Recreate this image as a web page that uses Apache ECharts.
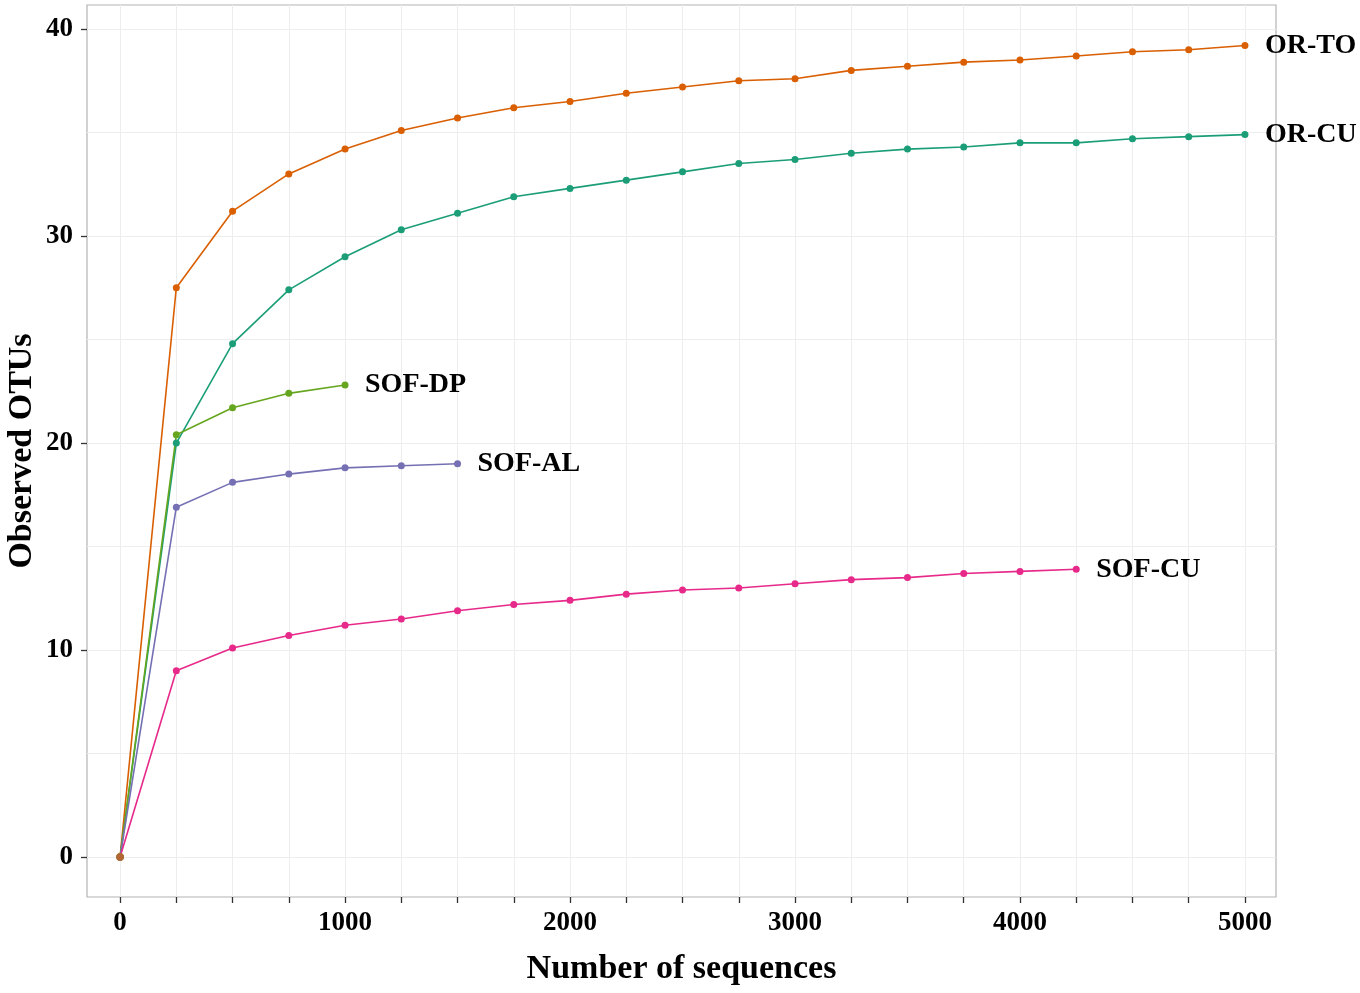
<!DOCTYPE html>
<html>
<head>
<meta charset="utf-8">
<style>
  html, body { margin: 0; padding: 0; background: #fff; }
  #main { width: 1360px; height: 993px; }
</style>
<script src="https://cdn.jsdelivr.net/npm/echarts@6/dist/echarts.min.js"></script>
</head>
<body>
<div id="main"></div>
<script>
const SERIF = "'Liberation Serif', 'Times New Roman', serif";

// sampling depths (number of sequences)
const depths = [0, 250, 500, 750, 1000, 1250, 1500, 1750, 2000, 2250, 2500,
  2750, 3000, 3250, 3500, 3750, 4000, 4250, 4500, 4750, 5000];

// observed OTUs per sample
const orTo = [0, 27.5, 31.2, 33.0, 34.2, 35.1, 35.7, 36.2, 36.5, 36.9, 37.2,
  37.5, 37.6, 38.0, 38.2, 38.4, 38.5, 38.7, 38.9, 39.0, 39.2];
const orCu = [0, 20.0, 24.8, 27.4, 29.0, 30.3, 31.1, 31.9, 32.3, 32.7, 33.1,
  33.5, 33.7, 34.0, 34.2, 34.3, 34.5, 34.5, 34.7, 34.8, 34.9];
const sofDp = [0, 20.4, 21.7, 22.4, 22.8];
const sofAl = [0, 16.9, 18.1, 18.5, 18.8, 18.9, 19.0];
const sofCu = [0, 9.0, 10.1, 10.7, 11.2, 11.5, 11.9, 12.2, 12.4, 12.7, 12.9,
  13.0, 13.2, 13.4, 13.5, 13.7, 13.8, 13.9];

const samples = [
  { name: 'OR-TO', color: '#d95f02', values: orTo },
  { name: 'OR-CU', color: '#1b9e77', values: orCu },
  { name: 'SOF-DP', color: '#66a61e', values: sofDp },
  { name: 'SOF-AL', color: '#7570b3', values: sofAl },
  { name: 'SOF-CU', color: '#e7298a', values: sofCu }
];

const xTicks = [0, 250, 500, 750, 1000, 1250, 1500, 1750, 2000, 2250, 2500,
  2750, 3000, 3250, 3500, 3750, 4000, 4250, 4500, 4750, 5000];
const xLabels = [0, 1000, 2000, 3000, 4000, 5000];
const yLabels = [0, 10, 20, 30, 40];
const yGrid = [0, 5, 10, 15, 20, 25, 30, 35, 40];

const chart = echarts.init(document.getElementById('main'));

const labelFont = { fontFamily: SERIF, fontWeight: 'bold', fontSize: 27, color: '#000' };
const titleFont = { fontFamily: SERIF, fontWeight: 'bold', fontSize: 34, color: '#000' };

const lineSeries = samples.map(function (s) {
  return {
    name: s.name,
    type: 'line',
    data: s.values.map(function (v, i) { return [depths[i], v]; }),
    symbol: 'circle',
    symbolSize: 7,
    showSymbol: true,
    clip: false,
    color: s.color,
    lineStyle: { width: 1.6, color: s.color },
    itemStyle: { color: s.color },
    endLabel: {
      show: true,
      formatter: s.name,
      distance: 20,
      color: '#000',
      fontFamily: SERIF,
      fontWeight: 'bold',
      fontSize: 28
    }
  };
});

const option = {
  backgroundColor: '#fff',
  animation: false,
  grid: {
    left: 87, right: 84, top: 5, bottom: 96,
    outerBoundsMode: 'none',
    containLabel: false,
    show: true,
    borderColor: '#b3b3b3',
    borderWidth: 1.2,
    backgroundColor: '#fff'
  },
  xAxis: {
    type: 'value',
    min: -147,
    max: 5138,
    name: 'Number of sequences',
    nameLocation: 'middle',
    nameGap: 55,
    nameMoveOverlap: false,
    nameTextStyle: titleFont,
    axisLine: { show: false, onZero: false },
    axisTick: { show: true, length: 6, customValues: xTicks, lineStyle: { color: '#333', width: 1.3 } },
    axisLabel: Object.assign({
      customValues: xLabels,
      margin: 13,
      formatter: function (v) { return String(v); }
    }, labelFont),
    splitLine: { show: true, lineStyle: { color: '#ededed', width: 1 } }
  },
  yAxis: [
    {
      // minor + major horizontal grid lines
      type: 'value',
      min: -1.93,
      max: 41.16,
      axisLine: { show: false, onZero: false },
      axisTick: { show: false, customValues: yGrid },
      axisLabel: { show: false, customValues: yGrid },
      splitLine: { show: true, lineStyle: { color: '#ededed', width: 1 } }
    },
    {
      type: 'value',
      position: 'left',
      offset: 0,
      min: -1.93,
      max: 41.16,
      name: 'Observed OTUs',
      nameLocation: 'middle',
      nameGap: 48,
      nameMoveOverlap: false,
      nameTextStyle: titleFont,
      axisLine: { show: false, onZero: false },
      axisTick: { show: true, length: 6, customValues: yLabels, lineStyle: { color: '#333', width: 1.3 } },
      axisLabel: Object.assign({
        customValues: yLabels,
        margin: 14
      }, labelFont),
      splitLine: { show: false }
    }
  ],
  series: lineSeries.concat([
    {
      name: 'origin',
      type: 'scatter',
      data: [[0, 0]],
      symbolSize: 8,
      itemStyle: { color: '#a6761d' },
      z: 4
    }
  ])
};

chart.setOption(option);
</script>
</body>
</html>
